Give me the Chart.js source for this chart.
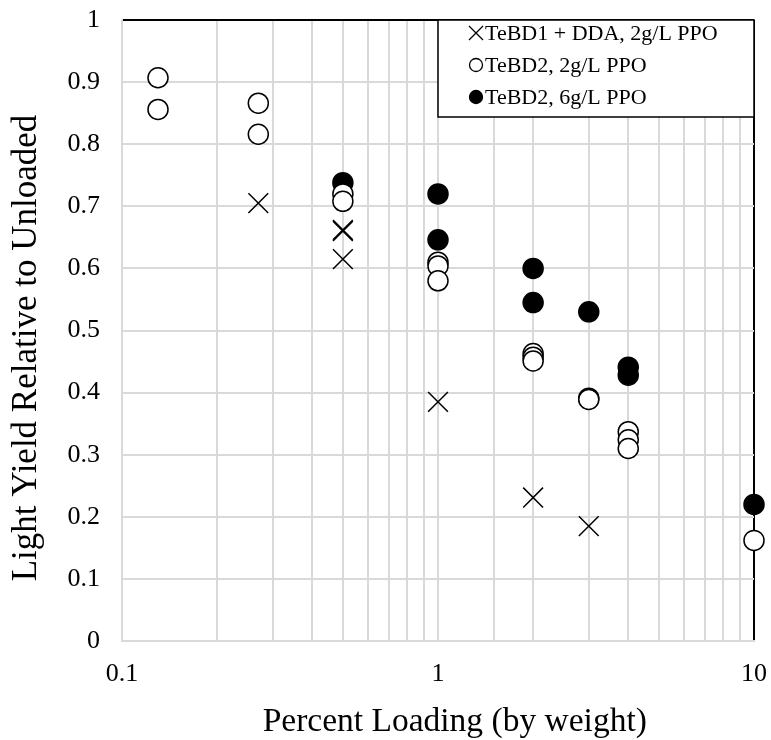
<!DOCTYPE html>
<html>
<head>
<meta charset="utf-8">
<script src="https://cdn.jsdelivr.net/npm/chart.js@4/dist/chart.umd.min.js"></script>
<style>
  html, body { margin: 0; padding: 0; background: #fff; }
  #wrap { width: 771px; height: 740px; }
</style>
</head>
<body>
<div id="wrap"><canvas id="myChart" width="771" height="740"></canvas></div>
<script>
// series labels
var seriesNames = ["TeBD1 + DDA, 2g/L PPO", "TeBD2, 2g/L PPO", "TeBD2, 6g/L PPO"];

// TeBD1 + DDA, 2g/L PPO
var loadA = [0.27, 0.5, 0.5, 0.5, 1, 2, 3];
var yieldA = [0.705, 0.66, 0.662, 0.615, 0.385, 0.231, 0.185];

// TeBD2, 2g/L PPO
var loadB = [0.13, 0.13, 0.27, 0.27, 0.5, 0.5, 1, 1, 1, 2, 2, 2, 3, 3, 4, 4, 4, 10];
var yieldB = [0.907, 0.856, 0.866, 0.816, 0.72, 0.708, 0.61, 0.604, 0.58, 0.463, 0.457, 0.451, 0.391, 0.389, 0.337, 0.324, 0.31, 0.162];

// TeBD2, 6g/L PPO
var loadC = [0.5, 1, 1, 2, 2, 3, 4, 4, 10];
var yieldC = [0.738, 0.72, 0.646, 0.6, 0.545, 0.53, 0.441, 0.428, 0.22];

function pts(xs, ys) {
    return xs.map(function (x, i) { return {x: x, y: ys[i]}; });
}

var serif = "'Liberation Serif', 'Times New Roman', serif";
var gridGray = '#d9d9d9';

function isDecade(v) {
    var l = Math.log10(v);
    return Math.abs(l - Math.round(l)) < 1e-9;
}

// keep the plot box where the layout padding puts it
function noEdgePad(scale) {
    scale.paddingLeft = 0;
    scale.paddingRight = 0;
    scale.paddingTop = 0;
    scale.paddingBottom = 0;
}

// legend box drawn in the top right of the plot
var boxLegend = {
    id: 'boxLegend',
    afterDraw: function (chart) {
        var ctx = chart.ctx;
        var area = chart.chartArea;
        var w = 316, h = 97;
        var x0 = area.right - w, y0 = area.top;
        ctx.save();
        ctx.fillStyle = '#fff';
        ctx.fillRect(x0, y0, w, h);
        ctx.strokeStyle = '#000';
        ctx.lineWidth = 1.5;
        ctx.strokeRect(x0, y0, w, h);
        ctx.font = "22px " + serif;
        ctx.textBaseline = 'middle';
        ctx.fillStyle = '#000';
        chart.data.datasets.forEach(function (ds, i) {
            var cy = y0 + 13 + i * 32;
            var cx = x0 + 38;
            ctx.lineWidth = 1.3;
            ctx.strokeStyle = '#000';
            if (ds.pointStyle === 'crossRot') {
                ctx.beginPath();
                ctx.moveTo(cx - 7, cy - 7); ctx.lineTo(cx + 7, cy + 7);
                ctx.moveTo(cx + 7, cy - 7); ctx.lineTo(cx - 7, cy + 7);
                ctx.stroke();
            } else {
                ctx.beginPath();
                ctx.arc(cx, cy, 6.5, 0, Math.PI * 2);
                ctx.fillStyle = ds.backgroundColor;
                ctx.fill();
                ctx.stroke();
            }
            ctx.fillStyle = '#000';
            ctx.fillText(ds.label, cx + 9, cy + 1);
        });
        ctx.restore();
    }
};

var ctx = document.getElementById("myChart").getContext('2d');
var myChart = new Chart(ctx, {
    type: 'scatter',
    data: {
        datasets: [{
            label: seriesNames[0],
            data: pts(loadA, yieldA),
            pointStyle: 'crossRot',
            pointRadius: 14,
            borderColor: '#000',
            backgroundColor: '#000',
            borderWidth: 1.5,
            clip: false
        }, {
            label: seriesNames[1],
            data: pts(loadB, yieldB),
            pointStyle: 'circle',
            pointRadius: 10,
            borderColor: '#000',
            backgroundColor: '#fff',
            borderWidth: 1.5,
            clip: false
        }, {
            label: seriesNames[2],
            data: pts(loadC, yieldC),
            pointStyle: 'circle',
            pointRadius: 10,
            borderColor: '#000',
            backgroundColor: '#000',
            borderWidth: 1.5,
            clip: false
        }]
    },
    options: {
        responsive: false,
        animation: false,
        layout: {
            padding: {left: 0, right: 17, top: 20, bottom: 0}
        },
        plugins: {
            legend: {display: false},
            tooltip: {enabled: false}
        },
        scales: {
            x: {
                type: 'logarithmic',
                min: 0.1,
                max: 10,
                afterFit: function (scale) { scale.height = 99; noEdgePad(scale); },
                border: {color: gridGray, width: 2},
                grid: {
                    drawTicks: false,
                    lineWidth: 2,
                    color: function (c) {
                        return c.tick && c.tick.value === 10 ? '#000' : gridGray;
                    }
                },
                ticks: {
                    autoSkip: false,
                    maxRotation: 0,
                    padding: 18,
                    color: '#000',
                    font: {family: serif, size: 26},
                    callback: function (v) {
                        return isDecade(v) ? String(+v.toPrecision(3)) : '';
                    }
                },
                title: {
                    display: true,
                    // leading spaces nudge the title a little right, as in the original
                    text: '    Percent Loading (by weight)',
                    color: '#000',
                    font: {family: serif, size: 33.5, lineHeight: 1},
                    padding: {top: 0, bottom: 1}
                }
            },
            y: {
                min: 0,
                max: 1,
                afterFit: function (scale) { scale.width = 122; noEdgePad(scale); },
                border: {color: gridGray, width: 2},
                grid: {
                    drawTicks: false,
                    lineWidth: 2,
                    color: function (c) {
                        return c.tick && c.tick.value === 1 ? '#000' : gridGray;
                    }
                },
                ticks: {
                    stepSize: 0.1,
                    padding: 22,
                    color: '#000',
                    font: {family: serif, size: 26},
                    callback: function (v) { return String(+v.toFixed(1)); }
                },
                title: {
                    display: true,
                    text: 'Light Yield Relative to Unloaded    ',
                    color: '#000',
                    font: {family: serif, size: 35},
                    padding: {top: 6, bottom: 0}
                }
            }
        }
    },
    plugins: [boxLegend]
});
</script>
</body>
</html>
